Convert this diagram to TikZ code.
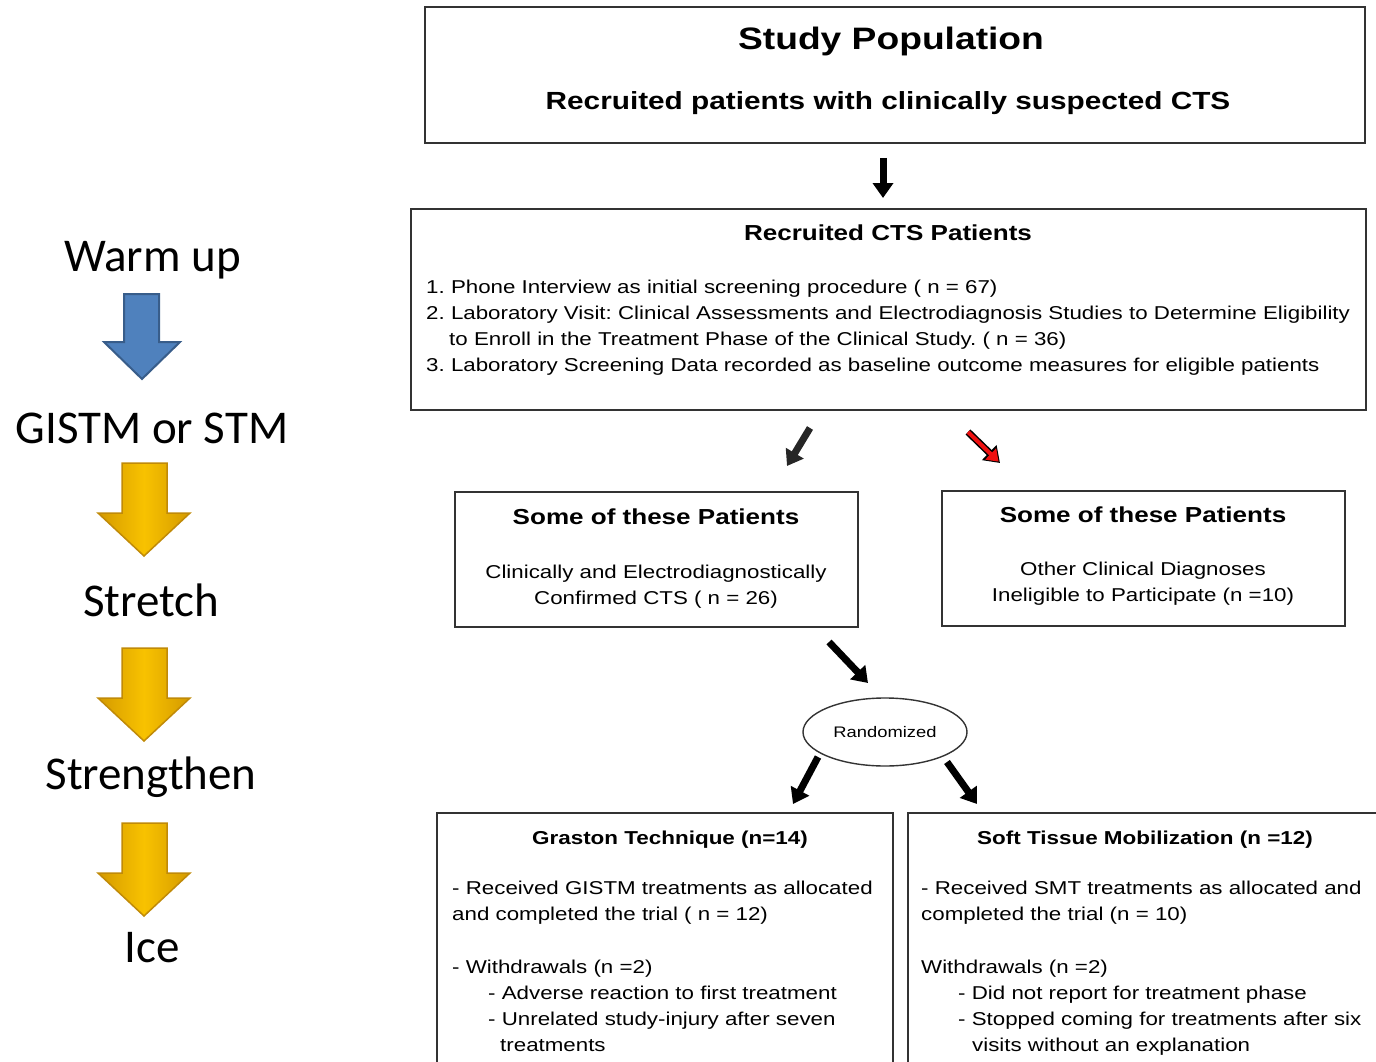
\documentclass[tikz,border=0pt]{standalone}
\usepackage{fontspec}
\setmainfont{Liberation Sans}[FakeStretch=1.2]
\newfontfamily\stepfont{Carlito}
\usetikzlibrary{positioning,shapes.geometric,arrows.meta}
\frenchspacing

\definecolor{stepblue}{HTML}{4F81BD}
\definecolor{stepblueline}{HTML}{385D8A}
\definecolor{golddark}{HTML}{D49A00}
\definecolor{goldlight}{HTML}{F8C200}
\definecolor{goldline}{HTML}{C08A08}
\definecolor{boxline}{HTML}{333333}
\definecolor{arrowred}{HTML}{EE1111}

\tikzset{
  steplabel/.style={font=\stepfont\fontsize{47}{47}\selectfont, inner sep=0pt, anchor=base},
  goldarrow/.style={draw=goldline, line width=1.5pt, left color=golddark, right color=golddark, middle color=goldlight},
  flowbox/.style={draw=boxline, line width=1.8pt, inner sep=0pt},
  boxtitle/.style={font=\bfseries\fontsize{21.7}{26}\selectfont, inner sep=0pt, anchor=base},
  boxtext/.style={font=\fontsize{18.6}{26}\selectfont, inner sep=0pt, anchor=base west, text width=560pt, align=left},
  fatarrow/.style={line width=7pt, -{Triangle[length=15pt,width=20pt]}},
}

\begin{document}
\begin{tikzpicture}[x=1pt,y=1pt,yscale=-1]
\useasboundingbox (0,0) rectangle (1376,1062);
\clip (0,0) rectangle (1376,1062);

% left column
\node[steplabel] (warm) at (152.5,271) {Warm up};
\node[steplabel] (gistm) at (152,443) {GISTM or STM};
\node[steplabel] (stretch) at (151,616) {Stretch};
\node[steplabel] (strength) at (151,789) {Strengthen};
\node[steplabel] (ice) at (152,962) {Ice};

\draw[draw=stepblueline, line width=2pt, fill=stepblue] (124,294) -- (159,294) -- (159,342) -- (180,342) -- (142,379) -- (104,342) -- (124,342) -- cycle;
\foreach \t in {463,648,823}
  \draw[goldarrow] (122,\t) -- (167,\t) -- (167,\t+50) -- (190,\t+50) -- (144,\t+93) -- (98,\t+50) -- (122,\t+50) -- cycle;

% Study Population
\node[flowbox, minimum width=940pt, minimum height=136pt] (pop) at (895,75) {};
\node[boxtitle, font=\bfseries\fontsize{31}{36}\selectfont] (poptitle) at (891,50) {Study Population};
\node[boxtitle, font=\bfseries\fontsize{24.8}{30}\selectfont] (popnote) at (888,110) {Recruited patients with clinically suspected CTS};

% Recruited CTS Patients
\node[flowbox, minimum width=955pt, minimum height=201pt] (rec) at (888.5,309.5) {};
\node[boxtitle] (rectitle) at (888,240) {Recruited CTS Patients};
\node[boxtext, text width=940pt] (reclist) at (426,293) {1. Phone Interview as initial screening procedure ( n = 67)\\
2. Laboratory Visit: Clinical Assessments and Electrodiagnosis Studies to Determine Eligibility\\
\hspace*{23pt}to Enroll in the Treatment Phase of the Clinical Study. ( n = 36)\\
3. Laboratory Screening Data recorded as baseline outcome measures for eligible patients};

% Some of these Patients
\node[flowbox, minimum width=403pt, minimum height=135pt] (conf) at (656.5,559.5) {};
\node[boxtitle] (conftitle) at (656,524) {Some of these Patients};
\node[boxtext, anchor=base, text width=390pt, align=center] (conftext) at (656,578) {Clinically and Electrodiagnostically\\Confirmed CTS ( n = 26)};

\node[flowbox, minimum width=403pt, minimum height=135pt] (other) at (1143.5,558.5) {};
\node[boxtitle] (othertitle) at (1143,522) {Some of these Patients};
\node[boxtext, anchor=base, text width=390pt, align=center] (othertext) at (1143,575) {Other Clinical Diagnoses\\Ineligible to Participate (n =10)};

% Randomized
\node[draw=boxline, line width=1.4pt, ellipse, minimum width=164pt, minimum height=68pt, inner sep=0pt, font=\fontsize{15.3}{18}\selectfont] (rand) at (885,732) {Randomized};

% Graston Technique
\node[flowbox, minimum width=456pt, minimum height=270pt] (gt) at (665,948) {};
\node[boxtitle, font=\bfseries\fontsize{18.7}{26}\selectfont] (gttitle) at (670,844) {Graston Technique (n=14)};
\node[boxtext, text width=430pt] (gttext) at (452,894) {- Received GISTM treatments as allocated\\
and completed the trial ( n = 12)\\[27pt]
- Withdrawals (n =2)\\
\hspace*{36pt}- Adverse reaction to first treatment\\
\hspace*{36pt}- Unrelated study-injury after seven\\
\hspace*{48pt}treatments};

% Soft Tissue Mobilization
\node[flowbox, minimum width=477pt, minimum height=270pt] (stm) at (1146.5,948) {};
\node[boxtitle, font=\bfseries\fontsize{18.7}{26}\selectfont] (stmtitle) at (1145,844) {Soft Tissue Mobilization (n =12)};
\node[boxtext, text width=450pt] (stmtext) at (921,894) {- Received SMT treatments as allocated and\\
completed the trial (n = 10)\\[27pt]
Withdrawals (n =2)\\
\hspace*{37pt}- Did not report for treatment phase\\
\hspace*{37pt}- Stopped coming for treatments after six\\
\hspace*{51pt}visits without an explanation};

% arrows
\coordinate (a1s) at (883,158);
\coordinate (a1e) at (883,198);
\coordinate (a2s) at (810,428);
\coordinate (a2e) at (787,466);
\coordinate (a3s) at (968,432);
\coordinate (a3e) at (1000,463);
\coordinate (a4s) at (829,642);
\coordinate (a4e) at (868,683);
\coordinate (a5s) at (818,757);
\coordinate (a5e) at (793,804);
\coordinate (a6s) at (947,762);
\coordinate (a6e) at (977,804);

\draw[fatarrow] (a1s) -- (a1e);
\draw[fatarrow, black!85] (a2s) -- (a2e);
\draw[fatarrow] (a3s) -- (a3e);
\draw[arrowred, line width=4pt, shorten >=2pt, -{Triangle[length=11pt,width=15pt]}] (a3s) -- (a3e);
\draw[fatarrow] (a4s) -- (a4e);
\draw[fatarrow] (a5s) -- (a5e);
\draw[fatarrow] (a6s) -- (a6e);

\end{tikzpicture}
\end{document}
